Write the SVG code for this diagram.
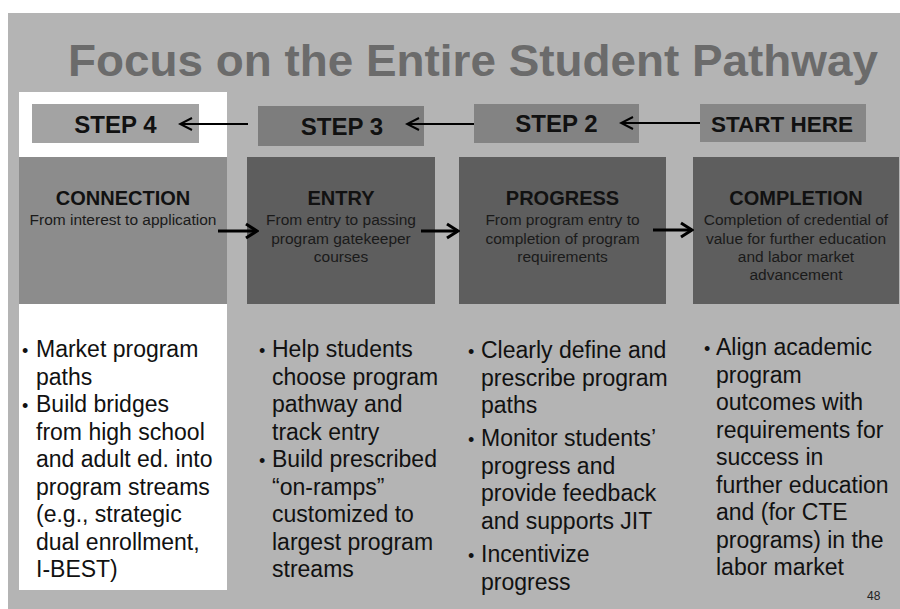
<svg xmlns="http://www.w3.org/2000/svg" width="900" height="609" viewBox="0 0 900 609">
<style>
text{font-family:"Liberation Sans",Arial,sans-serif;fill:#111}
.title{font-size:45px;font-weight:bold;fill:#6b6b6b}
.step{font-size:24px;font-weight:bold;text-anchor:middle}
.head{font-size:20px;font-weight:bold;text-anchor:middle}
.sub{font-size:15.5px;text-anchor:middle;fill:#1a1a1a}
.body{font-size:23px}
.bul{font-size:18px}
.conn{fill:none;stroke:#000;stroke-width:2}
.conn2{fill:none;stroke:#000;stroke-width:3}
.dark{fill:#5e5e5e}
</style>
<defs>
<marker id="chev" viewBox="-14 -8 16 16" refX="0" refY="0" markerWidth="16" markerHeight="16" orient="auto" markerUnits="userSpaceOnUse">
<path d="M-12,-6 L0,0 L-12,6" fill="none" stroke="#000" stroke-width="2"/>
</marker>
<marker id="chev2" viewBox="-14 -9 16 18" refX="0" refY="0" markerWidth="16" markerHeight="18" orient="auto" markerUnits="userSpaceOnUse">
<path d="M-11,-7 L0,0 L-11,7" fill="none" stroke="#000" stroke-width="3"/>
</marker>
</defs>
<rect x="0" y="0" width="900" height="609" fill="#fff"/>
<rect x="8" y="13" width="892" height="596" fill="#b4b4b4"/>
<text class="title" x="68" y="76" textLength="810" lengthAdjust="spacingAndGlyphs">Focus on the Entire Student Pathway</text>
<rect id="highlight" x="19" y="92" width="208" height="498" fill="#fff"/>

<g id="step4">
<rect x="32" y="104" width="167" height="39" fill="#a3a3a3"/>
<text class="step" x="115.5" y="133">STEP 4</text>
</g>
<g id="step3">
<rect x="258" y="106" width="166" height="40" fill="#7d7d7d"/>
<text class="step" x="342" y="135">STEP 3</text>
</g>
<g id="step2">
<rect x="474" y="104" width="165" height="39" fill="#838383"/>
<text class="step" x="556.5" y="132">STEP 2</text>
</g>
<g id="start">
<rect x="700" y="104" width="166" height="38" fill="#878787"/>
<text class="step" x="782" y="132" font-size="22.5px" style="font-size:22.5px">START HERE</text>
</g>

<g id="connection">
<rect x="19" y="157" width="208" height="147" fill="#8c8c8c"/>
<text class="head" x="123" y="205">CONNECTION</text>
<text class="sub" x="123" y="225">From interest to application</text>
<text class="body"><tspan class="bul" x="22" y="357">•</tspan><tspan x="36" y="357">Market program</tspan><tspan x="36" y="384.5">paths</tspan><tspan class="bul" x="22" y="412">•</tspan><tspan x="36" y="412">Build bridges</tspan><tspan x="36" y="439.5">from high school</tspan><tspan x="36" y="467">and adult ed. into</tspan><tspan x="36" y="494.5">program streams</tspan><tspan x="36" y="522">(e.g., strategic</tspan><tspan x="36" y="549.5">dual enrollment,</tspan><tspan x="36" y="577">I-BEST)</tspan></text>
</g>

<g id="entry">
<rect class="dark" x="247" y="157" width="188" height="147"/>
<text class="head" x="341" y="205">ENTRY</text>
<text class="sub" x="341" y="225">From entry to passing</text>
<text class="sub" x="341" y="243.5">program gatekeeper</text>
<text class="sub" x="341" y="262">courses</text>
<text class="body"><tspan class="bul" x="259" y="357">•</tspan><tspan x="272" y="357">Help students</tspan><tspan x="272" y="384.5">choose program</tspan><tspan x="272" y="412">pathway and</tspan><tspan x="272" y="439.5">track entry</tspan><tspan class="bul" x="259" y="467">•</tspan><tspan x="272" y="467">Build prescribed</tspan><tspan x="272" y="494.5">“on-ramps”</tspan><tspan x="272" y="522">customized to</tspan><tspan x="272" y="549.5">largest program</tspan><tspan x="272" y="577">streams</tspan></text>
</g>

<g id="progress">
<rect class="dark" x="459" y="157" width="207" height="147"/>
<text class="head" x="562.5" y="205">PROGRESS</text>
<text class="sub" x="562.5" y="225">From program entry to</text>
<text class="sub" x="562.5" y="243.5">completion of program</text>
<text class="sub" x="562.5" y="262">requirements</text>
<text class="body"><tspan class="bul" x="468" y="358">•</tspan><tspan x="481" y="358">Clearly define and</tspan><tspan x="481" y="385.5">prescribe program</tspan><tspan x="481" y="413">paths</tspan><tspan class="bul" x="468" y="446">•</tspan><tspan x="481" y="446">Monitor students’</tspan><tspan x="481" y="473.5">progress and</tspan><tspan x="481" y="501">provide feedback</tspan><tspan x="481" y="528.5">and supports JIT</tspan><tspan class="bul" x="468" y="562">•</tspan><tspan x="481" y="562">Incentivize</tspan><tspan x="481" y="589.5">progress</tspan></text>
</g>

<g id="completion">
<rect class="dark" x="693" y="157" width="206" height="147"/>
<text class="head" x="796" y="205">COMPLETION</text>
<text class="sub" x="796" y="225">Completion of credential of</text>
<text class="sub" x="796" y="243.5">value for further education</text>
<text class="sub" x="796" y="262">and labor market</text>
<text class="sub" x="796" y="280">advancement</text>
<text class="body"><tspan class="bul" x="704" y="355">•</tspan><tspan x="716" y="355">Align academic</tspan><tspan x="716" y="382.5">program</tspan><tspan x="716" y="410">outcomes with</tspan><tspan x="716" y="437.5">requirements for</tspan><tspan x="716" y="465">success in</tspan><tspan x="716" y="492.5">further education</tspan><tspan x="716" y="520">and (for CTE</tspan><tspan x="716" y="547.5">programs) in the</tspan><tspan x="716" y="575">labor market</tspan></text>
</g>

<g id="connectors">
<line class="conn" x1="248" y1="124" x2="180" y2="124" marker-end="url(#chev)"/>
<line class="conn" x1="474" y1="124" x2="407" y2="124" marker-end="url(#chev)"/>
<line class="conn" x1="700" y1="123" x2="621" y2="123" marker-end="url(#chev)"/>
<line class="conn2" x1="218" y1="231" x2="257" y2="231" marker-end="url(#chev2)"/>
<line class="conn2" x1="421" y1="231" x2="458" y2="231" marker-end="url(#chev2)"/>
<line class="conn2" x1="653" y1="230" x2="692" y2="230" marker-end="url(#chev2)"/>
</g>
<text x="867" y="600" style="font-size:12px;fill:#222">48</text>
</svg>
